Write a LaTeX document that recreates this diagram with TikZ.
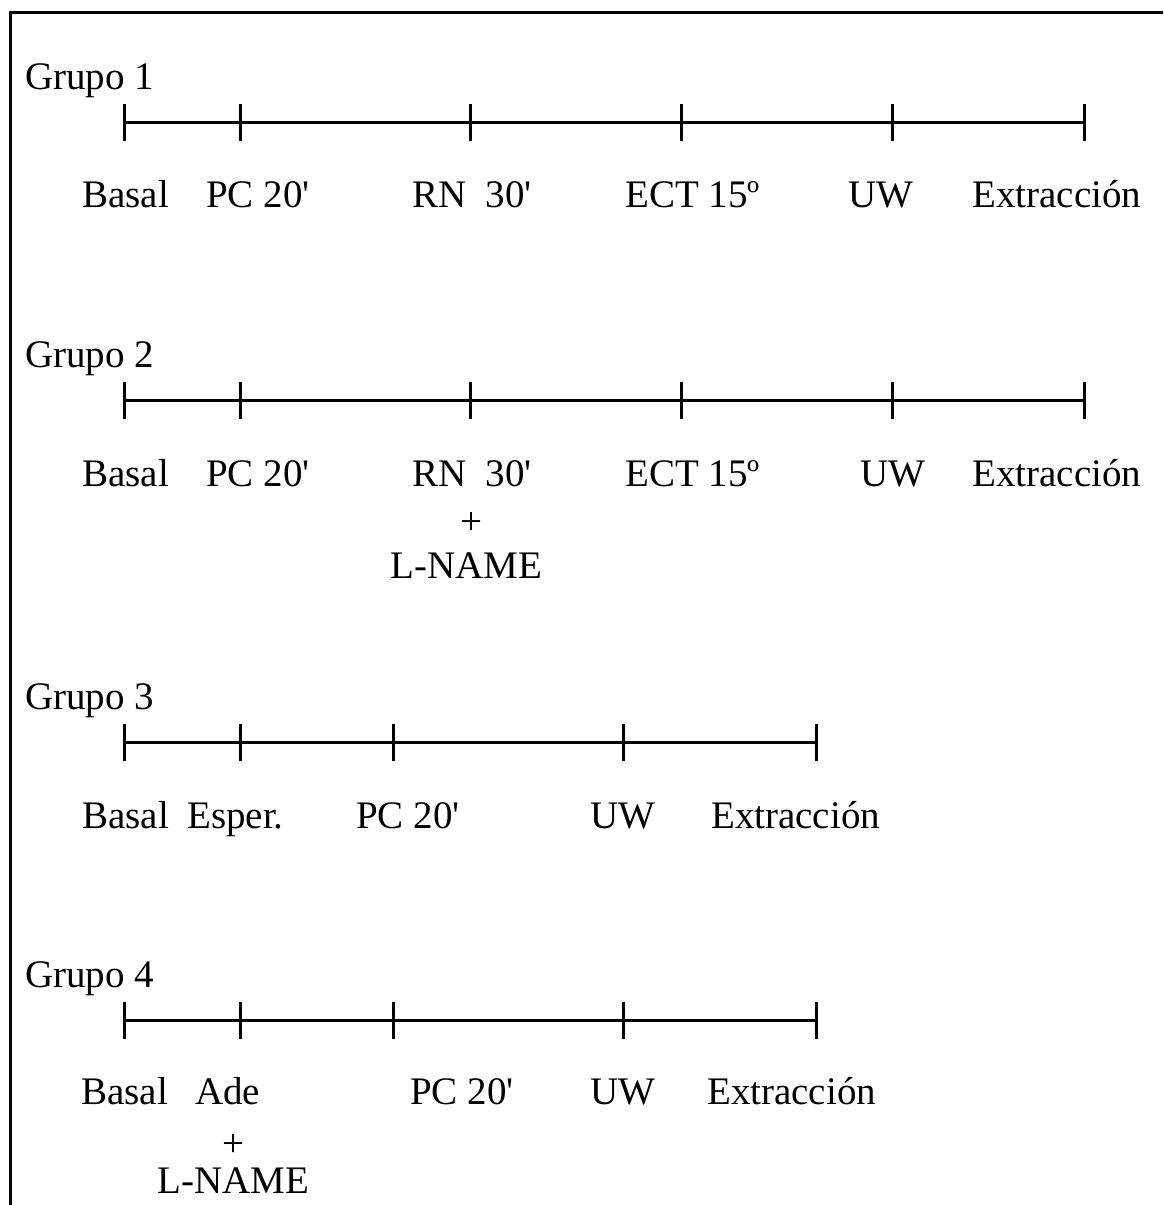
\documentclass[tikz,border=0pt]{standalone}
\usepackage{fontspec}
\setmainfont{Liberation Serif}[Ligatures=TeXOff]
\begin{document}
\begin{tikzpicture}[x=1pt,y=-1pt,
  lbl/.style={font=\fontsize{39}{41}\selectfont, inner sep=0pt, anchor=base west},
  plus/.style={font=\fontsize{39}{41}\selectfont, inner sep=0pt, anchor=center},
  tline/.style={line width=3pt},
  tickmark/.style={line width=3pt}]
\useasboundingbox (0,0) rectangle (1163,1205);
% frame (top and left only)
\coordinate (fb) at (10,1205);
\coordinate (fc) at (10,12);
\coordinate (fr) at (1163,12);
\draw[line width=3pt] (fb) -- (fc) -- (fr);

% ---------- Grupo 1 ----------
\node[lbl] (g1) at (25,89) {Grupo 1};
\foreach \i/\x in {1/124,2/240,3/470,4/681,5/892,6/1084}
  \coordinate (a\i) at (\x,122);
\draw[tline] (a1) -- (a6);
\foreach \i in {1,...,6}
  \draw[tickmark] ([yshift=18.5pt]a\i) -- ([yshift=-18.5pt]a\i);
\node[lbl] (a1l) at (82,207) {Basal};
\node[lbl] (a2l) at (206,207) {PC 20'};
\node[lbl] (a3l) at (412,207) {RN~~30'};
\node[lbl] (a4l) at (625,207) {ECT 15º};
\node[lbl] (a5l) at (848,207) {UW};
\node[lbl] (a6l) at (972,207) {Extracción};

% ---------- Grupo 2 ----------
\node[lbl] (g2) at (25,367) {Grupo 2};
\foreach \i/\x in {1/124,2/240,3/470,4/681,5/892,6/1084}
  \coordinate (b\i) at (\x,400);
\draw[tline] (b1) -- (b6);
\foreach \i in {1,...,6}
  \draw[tickmark] ([yshift=18.5pt]b\i) -- ([yshift=-18.5pt]b\i);
\node[lbl] (b1l) at (82,486) {Basal};
\node[lbl] (b2l) at (206,486) {PC 20'};
\node[lbl] (b3l) at (412,486) {RN~~30'};
\node[lbl] (b4l) at (625,486) {ECT 15º};
\node[lbl] (b5l) at (860,486) {UW};
\node[lbl] (b6l) at (972,486) {Extracción};
\node[plus] (b3p) at (471,523) {+};
\node[lbl] (b3n) at (390,578) {L-NAME};

% ---------- Grupo 3 ----------
\node[lbl] (g3) at (25,709) {Grupo 3};
\foreach \i/\x in {1/124,2/240,3/393,4/623,5/816}
  \coordinate (c\i) at (\x,742);
\draw[tline] (c1) -- (c5);
\foreach \i in {1,...,5}
  \draw[tickmark] ([yshift=18.5pt]c\i) -- ([yshift=-18.5pt]c\i);
\node[lbl] (c1l) at (82,828) {Basal};
\node[lbl] (c2l) at (187,828) {Esper.};
\node[lbl] (c3l) at (356,828) {PC 20'};
\node[lbl] (c4l) at (590,828) {UW};
\node[lbl] (c5l) at (711,828) {Extracción};

% ---------- Grupo 4 ----------
\node[lbl] (g4) at (25,987) {Grupo 4};
\foreach \i/\x in {1/124,2/240,3/393,4/623,5/816}
  \coordinate (d\i) at (\x,1020);
\draw[tline] (d1) -- (d5);
\foreach \i in {1,...,5}
  \draw[tickmark] ([yshift=18.5pt]d\i) -- ([yshift=-18.5pt]d\i);
\node[lbl] (d1l) at (81,1104) {Basal};
\node[lbl] (d2l) at (195,1104) {Ade};
\node[lbl] (d3l) at (410,1104) {PC 20'};
\node[lbl] (d4l) at (590,1104) {UW};
\node[lbl] (d5l) at (707,1104) {Extracción};
\node[plus] (d2p) at (233,1145) {+};
\node[lbl] (d2n) at (157,1193) {L-NAME};
\end{tikzpicture}
\end{document}
